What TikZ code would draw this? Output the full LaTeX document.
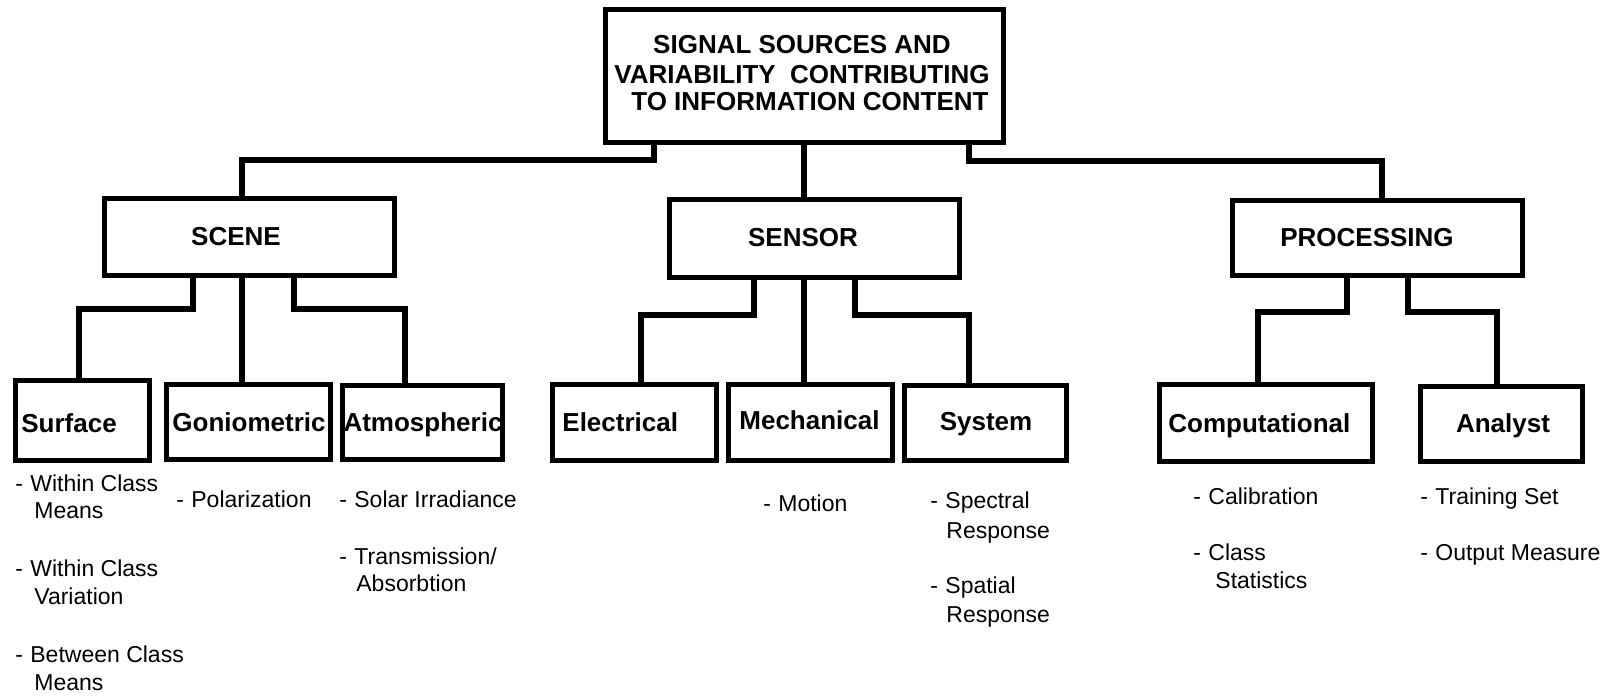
\documentclass[tikz,border=0pt]{standalone}
\usepackage{fontspec}
\setmainfont{Liberation Sans}
\newcommand{\dashitem}[1]{\makebox[7.5pt][l]{-}#1}
\begin{document}
\begin{tikzpicture}[x=0.5pt,y=-0.5pt,
  box/.style={draw, line width=2.7pt, inner sep=0pt},
  conn/.style={line width=2.7pt},
  lbl/.style={font=\fontsize{13pt}{14pt}\selectfont\bfseries, inner sep=0pt, anchor=base},
  lblw/.style={lbl, anchor=base west},
  itm/.style={font=\fontsize{11.5pt}{13.75pt}\selectfont, inner sep=0pt, anchor=base west}]
\useasboundingbox[fill=white] (0,0) rectangle (1610,696);

% boxes
\node[box, minimum width=198.8pt, minimum height=66.3pt] (top) at (804.5,76) {};
\node[box, minimum width=144.8pt, minimum height=38.3pt] (scene) at (249.5,237) {};
\node[box, minimum width=144.8pt, minimum height=38.8pt] (sensor) at (814.5,238.5) {};
\node[box, minimum width=144.8pt, minimum height=37.3pt] (proc) at (1377.5,238) {};
\node[box, minimum width=66.8pt, minimum height=39.8pt] (surf) at (82.5,420.5) {};
\node[box, minimum width=81.8pt, minimum height=37.3pt] (gonio) at (248.5,422) {};
\node[box, minimum width=79.8pt, minimum height=36.8pt] (atmos) at (422.5,422.5) {};
\node[box, minimum width=81.8pt, minimum height=37.8pt] (elec) at (634.5,422.5) {};
\node[box, minimum width=81.8pt, minimum height=37.8pt] (mech) at (810.5,422.5) {};
\node[box, minimum width=80.8pt, minimum height=37.3pt] (syst) at (985.5,423) {};
\node[box, minimum width=106.3pt, minimum height=38.3pt] (comp) at (1266,423) {};
\node[box, minimum width=80.8pt, minimum height=37.3pt] (anal) at (1501.5,424) {};

% connector coordinates
\coordinate (a1) at (654,160);  \coordinate (b1) at (242,160);
\coordinate (c0) at (804,0);
\coordinate (a3) at (969,161);  \coordinate (b3) at (1382,161);
\coordinate (s1) at (193,309);  \coordinate (s1e) at (79,309);
\coordinate (s2) at (242,0);
\coordinate (s3) at (294,309);  \coordinate (s3e) at (405,309);
\coordinate (n1) at (754,315);  \coordinate (n1e) at (641,315);
\coordinate (n3) at (855,315);  \coordinate (n3e) at (969,315);
\coordinate (p1) at (1347,312); \coordinate (p1e) at (1258,312);
\coordinate (p2) at (1408,312); \coordinate (p2e) at (1497,312);

% connectors
\draw[conn] (top.south -| a1) -- (a1) -| (scene.north -| b1);
\draw[conn] (top.south -| c0) -- (sensor.north -| c0);
\draw[conn] (top.south -| a3) -- (a3) -| (proc.north -| b3);
\draw[conn] (scene.south -| s1) -- (s1) -| (surf.north -| s1e);
\draw[conn] (scene.south -| s2) -- (gonio.north -| s2);
\draw[conn] (scene.south -| s3) -- (s3) -| (atmos.north -| s3e);
\draw[conn] (sensor.south -| n1) -- (n1) -| (elec.north -| n1e);
\draw[conn] (sensor.south -| c0) -- (mech.north -| c0);
\draw[conn] (sensor.south -| n3) -- (n3) -| (syst.north -| n3e);
\draw[conn] (proc.south -| p1) -- (p1) -| (comp.north -| p1e);
\draw[conn] (proc.south -| p2) -- (p2) -| (anal.north -| p2e);

% box labels
\node[lbl] (tl1) at (802,54) {SIGNAL SOURCES AND};
\node[lbl] (tl2) at (802,83) {VARIABILITY\ \ CONTRIBUTING};
\node[lbl] (tl3) at (810,110) {TO INFORMATION CONTENT};
\node[lbl] (lscene) at (236,245) {SCENE};
\node[lbl] (lsensor) at (803,246) {SENSOR};
\node[lbl] (lproc) at (1367,246) {PROCESSING};
\node[lblw] (lsurf) at (21,432) {Surface};
\node[lbl] (lgonio) at (249,431) {Goniometric};
\node[lbl] (latmos) at (423,431) {Atmospheric};
\node[lblw] (lelec) at (562,431) {Electrical};
\node[lbl] (lmech) at (809.5,429) {Mechanical};
\node[lbl] (lsyst) at (986,430) {System};
\node[lblw] (lcomp) at (1168,432) {Computational};
\node[lbl] (lanal) at (1503,432) {Analyst};

% item lists
\node[itm] (i1) at (15,491) {\dashitem{Within Class}};
\node[itm] (i1b) at (34,518) {Means};
\node[itm] (i2) at (15,576) {\dashitem{Within Class}};
\node[itm] (i2b) at (34,604) {Variation};
\node[itm] (i3) at (15,662) {\dashitem{Between Class}};
\node[itm] (i3b) at (34,690) {Means};
\node[itm] (i4) at (176,507) {\dashitem{Polarization}};
\node[itm] (i5) at (339,507) {\dashitem{Solar Irradiance}};
\node[itm] (i6) at (339,564) {\dashitem{Transmission/}};
\node[itm] (i6b) at (356,591) {Absorbtion};
\node[itm] (i7) at (763,511) {\dashitem{Motion}};
\node[itm] (i8) at (930,508) {\dashitem{Spectral}};
\node[itm] (i8b) at (946,538) {Response};
\node[itm] (i9) at (930,593) {\dashitem{Spatial}};
\node[itm] (i9b) at (946,622) {Response};
\node[itm] (i10) at (1193,504) {\dashitem{Calibration}};
\node[itm] (i11) at (1193,560) {\dashitem{Class}};
\node[itm] (i11b) at (1215,588) {Statistics};
\node[itm] (i12) at (1420,504) {\dashitem{Training Set}};
\node[itm] (i13) at (1420,560) {\dashitem{Output Measure}};
\end{tikzpicture}
\end{document}
